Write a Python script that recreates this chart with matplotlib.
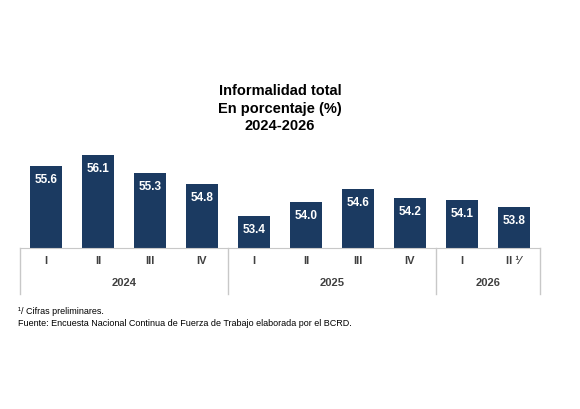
import matplotlib
matplotlib.use("Agg")
import matplotlib.pyplot as plt

quarters = ["I", "II", "III", "IV", "I", "II", "III", "IV", "I", "II ¹⁄"]
years = ["2024", "2025", "2026"]
year_counts = [4, 4, 2]
values = [55.6, 56.1, 55.3, 54.8, 53.4, 54.0, 54.6, 54.2, 54.1, 53.8]

plt.rcParams['font.family'] = ['Liberation Sans', 'DejaVu Sans']
fig = plt.figure(figsize=(5.8, 4.1), dpi=100)
ax = fig.add_axes([0.0345, 0.393, 0.8965, 0.266])
color = "#1b3a61"
x = list(range(len(values)))
ax.bar(x, values, width=0.6, color=color)
ax.set_ylim(52.0, 56.8)
ax.set_xlim(-0.5, len(values) - 0.5)
for xi, v in zip(x, values):
    ax.text(xi, v - 0.3, f"{v:.1f}", ha="center", va="top", color="white",
            fontsize=8.5, fontweight="bold")
for s in ["top", "right", "left"]:
    ax.spines[s].set_visible(False)
ax.spines["bottom"].set_color("#c8c8c8")
ax.set_yticks([])
ax.set_xticks([])
gray = "#c8c8c8"
trans = ax.get_xaxis_transform()
bounds = [-0.5]
for c in year_counts:
    bounds.append(bounds[-1] + c)
for b in bounds:
    ax.plot([b, b], [0, -0.42], transform=trans, color=gray, lw=1, clip_on=False)
for i in range(len(bounds) - 1):
    ax.text((bounds[i] + bounds[i+1]) / 2, -0.31, years[i], transform=trans,
            ha="center", va="center", fontsize=8, fontweight="bold", color="#404040")
for xi, q in zip(x, quarters):
    ax.text(xi, -0.11, q, transform=trans,
            ha="center", va="center", fontsize=8, fontweight="bold", color="#404040")

fig.text(0.483, 0.735, "Informalidad total\nEn porcentaje (%)\n2024-2026", ha="center", va="center",
         fontsize=10.5, fontweight="bold", linespacing=1.3)
fig.text(0.031, 0.241, "¹/ Cifras preliminares.", fontsize=6.5, va="center")
fig.text(0.031, 0.212, "Fuente: Encuesta Nacional Continua de Fuerza de Trabajo elaborada por el BCRD.",
         fontsize=6.5, va="center")
fig.savefig("out.png", dpi=100, facecolor="white")
